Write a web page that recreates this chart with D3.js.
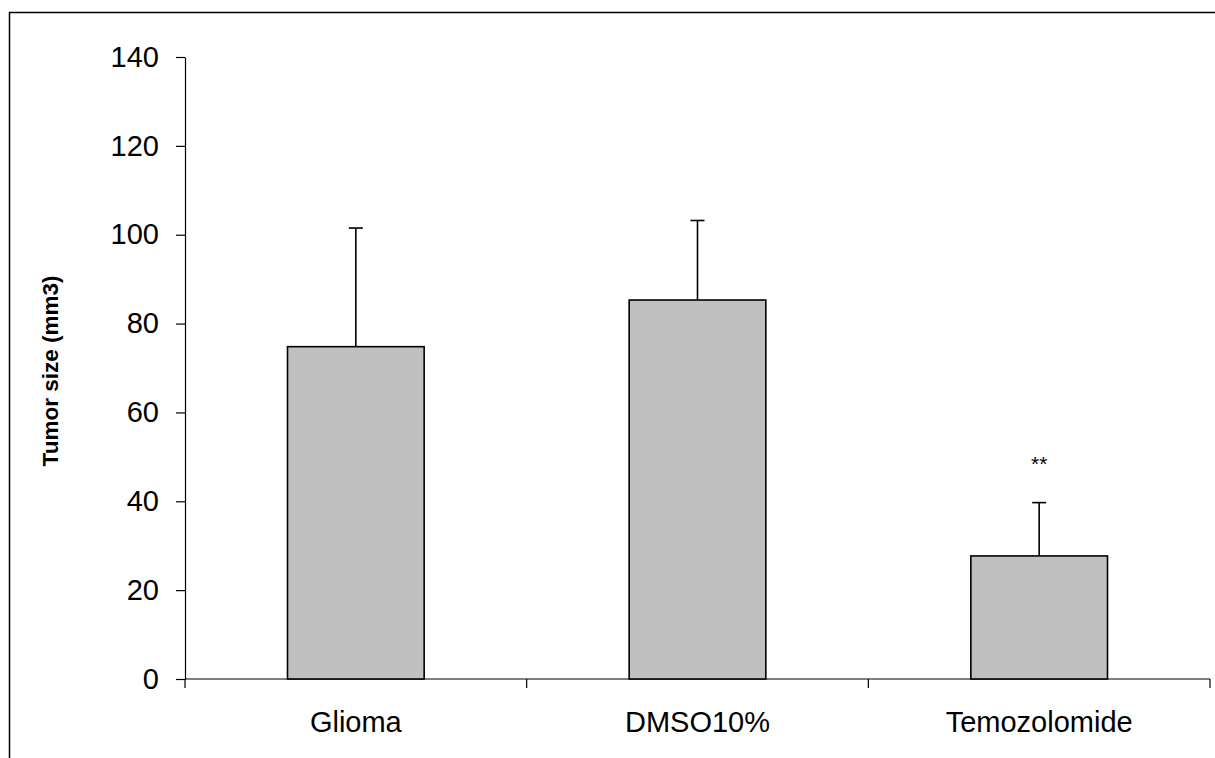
<!DOCTYPE html>
<html>
<head>
<meta charset="utf-8">
<script src="https://cdn.jsdelivr.net/npm/d3@7"></script>
<style>
  html, body { margin: 0; padding: 0; background: #fff; }
  svg { display: block; }
</style>
</head>
<body>
<svg id="chart" width="1215" height="758"></svg>
<script>
// Tumor size by treatment group (mean + SD, mm3)
const groups = ["Glioma", "DMSO10%", "Temozolomide"];
const means = [74.8, 85.3, 27.7];
const errors = [26.7, 17.9, 12.0];
const markers = ["", "", "**"];
const yTicks = [0, 20, 40, 60, 80, 100, 120, 140];

const svg = d3.select("#chart");
const W = 1215, H = 758;
const plot = { left: 185, right: 1210, top: 57, bottom: 679 };
const font = "Arial, 'Liberation Sans', Helvetica, sans-serif";

// outer frame (runs off the right and bottom edge)
svg.append("rect")
  .attr("x", 9.5).attr("y", 12.5)
  .attr("width", W).attr("height", H)
  .attr("fill", "none").attr("stroke", "#000").attr("stroke-width", 1.5);

const x = d3.scaleBand().domain(groups)
  .range([plot.left, plot.right]).paddingInner(0.6).paddingOuter(0.3);
const xOuter = d3.scaleBand().domain(groups).range([plot.left, plot.right]);
const y = d3.scaleLinear().domain([0, 140]).range([plot.bottom, plot.top]);

// y axis
const yAxis = svg.append("g")
  .attr("transform", `translate(${plot.left},0)`)
  .call(d3.axisLeft(y).tickValues(yTicks).tickSize(9).tickPadding(17).tickSizeOuter(0));
yAxis.attr("font-family", font).attr("font-size", 29);
yAxis.select(".domain").attr("stroke", "#000").attr("stroke-width", 1.2);
yAxis.selectAll(".tick line").attr("stroke", "#000").attr("stroke-width", 1.2);
yAxis.selectAll(".tick text").attr("fill", "#000");

// x axis: ticks sit on category boundaries
const boundaries = groups.map(g => xOuter(g)).concat([plot.right]);
const xAxisG = svg.append("g").attr("transform", `translate(0,${plot.bottom})`);
xAxisG.append("line")
  .attr("x1", plot.left).attr("x2", plot.right)
  .attr("stroke", "#000").attr("stroke-width", 1.2);
xAxisG.selectAll("line.tick").data(boundaries).join("line")
  .attr("class", "tick")
  .attr("x1", d => d).attr("x2", d => d)
  .attr("y1", 0).attr("y2", 9)
  .attr("stroke", "#000").attr("stroke-width", 1.2);
xAxisG.selectAll("text").data(groups).join("text")
  .attr("x", d => xOuter(d) + xOuter.bandwidth() / 2)
  .attr("y", 53)
  .attr("text-anchor", "middle")
  .attr("font-family", font).attr("font-size", 29).attr("fill", "#000")
  .text(d => d);

// y axis title
svg.append("text")
  .attr("transform", `translate(58,371) rotate(-90)`)
  .attr("text-anchor", "middle")
  .attr("font-family", font).attr("font-size", 22.5).attr("font-weight", "bold")
  .attr("fill", "#000")
  .text("Tumor size (mm3)");

const data = groups.map((g, i) => ({ g, m: means[i], e: errors[i], s: markers[i] }));

// error bars (upper only)
const cx = d => x(d.g) + x.bandwidth() / 2;
svg.selectAll("line.err").data(data).join("line")
  .attr("class", "err")
  .attr("x1", cx).attr("x2", cx)
  .attr("y1", d => y(d.m)).attr("y2", d => y(d.m + d.e))
  .attr("stroke", "#000").attr("stroke-width", 1.6);
svg.selectAll("line.cap").data(data).join("line")
  .attr("class", "cap")
  .attr("x1", d => cx(d) - 7).attr("x2", d => cx(d) + 7)
  .attr("y1", d => y(d.m + d.e)).attr("y2", d => y(d.m + d.e))
  .attr("stroke", "#000").attr("stroke-width", 1.6);

// bars
svg.selectAll("rect.bar").data(data).join("rect")
  .attr("class", "bar")
  .attr("x", d => x(d.g)).attr("width", x.bandwidth())
  .attr("y", d => y(d.m)).attr("height", d => y(0) - y(d.m))
  .attr("fill", "#c0c0c0").attr("stroke", "#000").attr("stroke-width", 1.6);

// significance markers
svg.selectAll("text.sig").data(data.filter(d => d.s)).join("text")
  .attr("class", "sig")
  .attr("x", cx)
  .attr("y", d => y(d.m + d.e) - 32)
  .attr("text-anchor", "middle")
  .attr("font-family", font).attr("font-size", 21).attr("fill", "#000")
  .text(d => d.s);
</script>
</body>
</html>
